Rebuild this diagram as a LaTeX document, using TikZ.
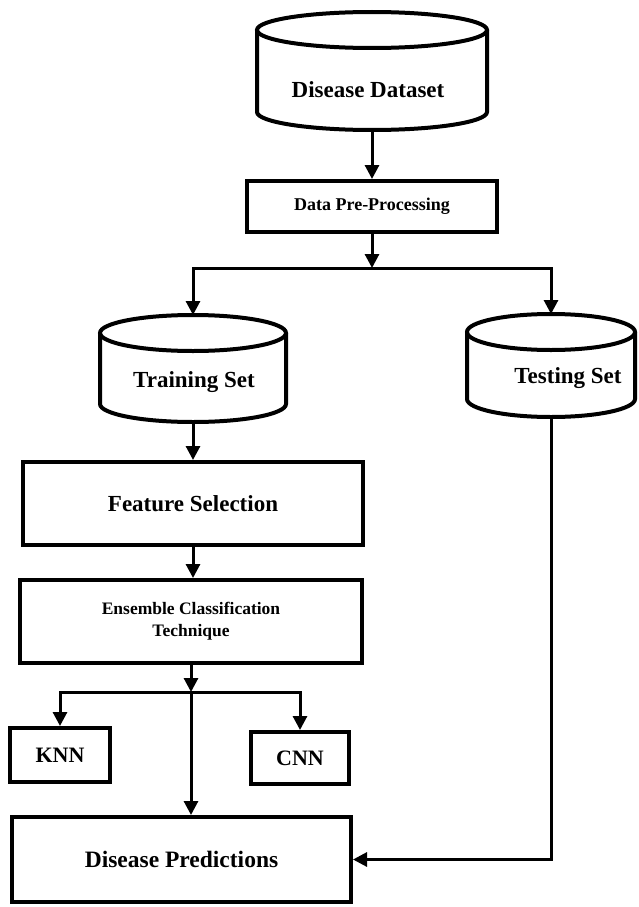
\documentclass[tikz,border=0pt]{standalone}
\usepackage{fontspec}
\setmainfont{Liberation Serif}
\usepackage{tikz}
\usetikzlibrary{positioning,calc,arrows.meta}

% data store drawn as a cylinder: name, centre x, top y, bottom y, half width
\newcommand{\dbcyl}[5]{%
        \draw[boxline] (#2-#5,-#3-18) -- (#2-#5,-#4+18)
                arc[start angle=180,end angle=360,x radius=#5,y radius=18]
                -- (#2+#5,-#3-18);
        \draw[boxline] (#2,-#3-18) ellipse[x radius=#5,y radius=18];
        \coordinate (#1 top) at (#2,-#3);
        \coordinate (#1 bot) at (#2,-#4);
}

\begin{document}
\begin{tikzpicture}[x=1pt,y=1pt,>={Triangle[width=14pt,length=14pt]},
        boxline/.style={line width=4pt},
        flow/.style={line width=3pt,->},
        stepbox/.style={draw,rectangle,line width=4pt,inner sep=0pt}]
        \useasboundingbox (0,0) rectangle (639,-907);

        % draw the data stores
        \dbcyl{dataset}{372}{12}{130}{115}
        \node[font=\fontsize{23}{26}\selectfont\bfseries] (datasettext) at (368,-90) {Disease Dataset};

        \dbcyl{train}{193}{315}{422}{93}
        \node[font=\fontsize{23}{26}\selectfont\bfseries] (traintext) at (194,-382) {Training Set};

        \dbcyl{test}{551}{314}{417}{84}
        \node[font=\fontsize{23}{26}\selectfont\bfseries] (testtext) at (568,-378) {Testing Set};

        % draw the steps
        \node[stepbox,minimum width=250pt,minimum height=51pt,font=\fontsize{18}{20}\selectfont\bfseries] (prep) at (372,-206.5) {Data Pre-Processing};
        \node[stepbox,minimum width=340pt,minimum height=83pt,font=\fontsize{23}{26}\selectfont\bfseries] (feat) at (193,-503.5) {Feature Selection};
        \node[stepbox,minimum width=342pt,minimum height=83pt,align=center,font=\fontsize{17.5}{22}\selectfont\bfseries] (ens) at (191,-621.5) {Ensemble Classification\\Technique};
        \node[stepbox,minimum width=100pt,minimum height=54pt,font=\fontsize{22}{25}\selectfont\bfseries] (knn) at (60,-755) {KNN};
        \node[stepbox,minimum width=98pt,minimum height=52pt,font=\fontsize{22}{25}\selectfont\bfseries] (cnn) at (300,-758) {CNN};
        \node[stepbox,minimum width=339pt,minimum height=85pt,font=\fontsize{23.5}{27}\selectfont\bfseries] (pred) at (181.5,-859.5) {Disease Predictions};

        \coordinate (split) at (372,-268);
        \coordinate (enssplit) at (187,-692);

        % draw the connectors
        \draw[flow] (dataset bot) -- (prep);
        \draw[flow] (prep) -- (split);
        \draw[flow] (split) -| (train top);
        \draw[flow] (split) -| (test top);
        \draw[flow] (train bot) -- (feat);
        \draw[flow] (feat.south) -- (feat.south |- ens.north);
        \draw[flow] (ens.south) -- (ens.south |- enssplit);
        \draw[flow] (ens.south |- enssplit) -| (knn);
        \draw[flow] (ens.south |- enssplit) -| (cnn);
        \draw[flow] (ens.south |- enssplit) -- (ens.south |- pred.north);
        \draw[flow] (test bot) |- (pred);
\end{tikzpicture}
\end{document}
